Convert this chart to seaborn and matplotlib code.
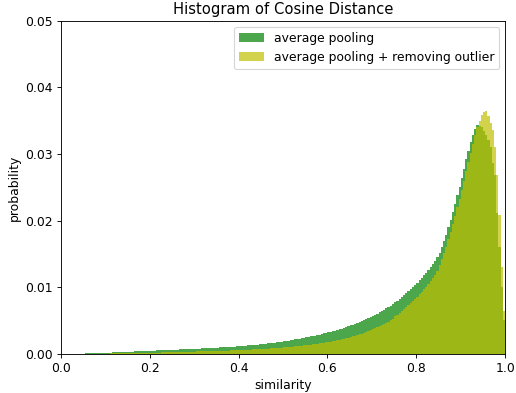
import numpy as np
import pandas as pd
import seaborn as sns
import matplotlib.pyplot as plt
from matplotlib.patches import Patch

# probability per bin (bin width 0.005, 200 bins over [0, 1])
avg_pool = [
    0, 0, 0, 0, 0.00001, 0.00002, 0.00003, 0.00004, 0.00005, 0.00007,
    0.00008, 0.00009, 0.00010, 0.00011, 0.00012, 0.00013, 0.00015, 0.00016, 0.00017, 0.00019,
    0.00020, 0.00021, 0.00023, 0.00024, 0.00026, 0.00027, 0.00029, 0.00030, 0.00032, 0.00033,
    0.00035, 0.00036, 0.00038, 0.00039, 0.00041, 0.00042, 0.00044, 0.00045, 0.00047, 0.00048,
    0.00050, 0.00051, 0.00053, 0.00054, 0.00056, 0.00057, 0.00059, 0.00060, 0.00062, 0.00063,
    0.00065, 0.00066, 0.00068, 0.00069, 0.00071, 0.00072, 0.00074, 0.00075, 0.00077, 0.00078,
    0.00080, 0.00082, 0.00083, 0.00085, 0.00087, 0.00088, 0.00090, 0.00092, 0.00094, 0.00095,
    0.00097, 0.00099, 0.00101, 0.00103, 0.00105, 0.00107, 0.00109, 0.00111, 0.00113, 0.00115,
    0.00117, 0.00120, 0.00123, 0.00126, 0.00129, 0.00132, 0.00135, 0.00138, 0.00142, 0.00145,
    0.00149, 0.00153, 0.00157, 0.00161, 0.00165, 0.00169, 0.00173, 0.00178, 0.00182, 0.00187,
    0.00192, 0.00197, 0.00202, 0.00207, 0.00213, 0.00219, 0.00225, 0.00231, 0.00237, 0.00243,
    0.00250, 0.00257, 0.00264, 0.00271, 0.00278, 0.00285, 0.00293, 0.00301, 0.00309, 0.00317,
    0.00326, 0.00335, 0.00344, 0.00353, 0.00363, 0.00373, 0.00383, 0.00394, 0.00405, 0.00417,
    0.00429, 0.00441, 0.00454, 0.00467, 0.00481, 0.00495, 0.00510, 0.00525, 0.00541, 0.00557,
    0.00574, 0.00591, 0.00609, 0.00627, 0.00646, 0.00665, 0.00685, 0.00706, 0.00728, 0.00751,
    0.00775, 0.00800, 0.00826, 0.00853, 0.00881, 0.00910, 0.00940, 0.00971, 0.01003, 0.01036,
    0.01070, 0.01106, 0.01143, 0.01182, 0.01222, 0.01264, 0.01308, 0.01354, 0.01402, 0.01452,
    0.0152, 0.0160, 0.0170, 0.0179, 0.0190, 0.0201, 0.0213, 0.0225, 0.0238, 0.0251,
    0.0264, 0.0278, 0.0292, 0.0305, 0.0318, 0.0329, 0.0338, 0.0343, 0.0342, 0.0340,
    0.0335, 0.0329, 0.0321, 0.0310, 0.0287, 0.0269, 0.0212, 0.0161, 0.0101, 0.0051,
]

avg_pool_no_outlier = [
    0, 0, 0, 0, 0, 0.00001, 0.00001, 0.00001, 0.00002, 0.00002,
    0.00003, 0.00003, 0.00004, 0.00004, 0.00005, 0.00005, 0.00006, 0.00006, 0.00007, 0.00007,
    0.00008, 0.00008, 0.00009, 0.00009, 0.00010, 0.00010, 0.00011, 0.00011, 0.00012, 0.00012,
    0.00013, 0.00014, 0.00014, 0.00015, 0.00016, 0.00016, 0.00017, 0.00018, 0.00018, 0.00019,
    0.00020, 0.00021, 0.00021, 0.00022, 0.00023, 0.00024, 0.00025, 0.00025, 0.00026, 0.00027,
    0.00028, 0.00029, 0.00030, 0.00031, 0.00032, 0.00033, 0.00034, 0.00035, 0.00036, 0.00037,
    0.00038, 0.00039, 0.00040, 0.00041, 0.00042, 0.00043, 0.00044, 0.00045, 0.00046, 0.00047,
    0.00048, 0.00049, 0.00050, 0.00051, 0.00052, 0.00053, 0.00055, 0.00056, 0.00057, 0.00058,
    0.00060, 0.00061, 0.00063, 0.00064, 0.00066, 0.00067, 0.00069, 0.00070, 0.00072, 0.00074,
    0.00076, 0.00078, 0.00080, 0.00082, 0.00084, 0.00086, 0.00088, 0.00091, 0.00093, 0.00096,
    0.00099, 0.00102, 0.00105, 0.00108, 0.00111, 0.00114, 0.00118, 0.00121, 0.00125, 0.00129,
    0.00133, 0.00137, 0.00141, 0.00145, 0.00150, 0.00155, 0.00160, 0.00165, 0.00170, 0.00176,
    0.00182, 0.00188, 0.00194, 0.00201, 0.00208, 0.00215, 0.00223, 0.00231, 0.00239, 0.00248,
    0.00257, 0.00266, 0.00276, 0.00286, 0.00297, 0.00308, 0.00320, 0.00332, 0.00345, 0.00358,
    0.00372, 0.00386, 0.00401, 0.00417, 0.00433, 0.00450, 0.00468, 0.00487, 0.00507, 0.00527,
    0.00565, 0.00590, 0.00616, 0.00643, 0.00671, 0.00700, 0.00730, 0.00761, 0.00793, 0.00826,
    0.00860, 0.00896, 0.00933, 0.00972, 0.01012, 0.01054, 0.01098, 0.01144, 0.01192, 0.01242,
    0.0134, 0.0142, 0.0152, 0.0161, 0.0172, 0.0183, 0.0195, 0.0207, 0.0220, 0.0233,
    0.0246, 0.0260, 0.0274, 0.0288, 0.0301, 0.0315, 0.0328, 0.0340, 0.0350, 0.0358,
    0.0363, 0.0364, 0.0357, 0.0347, 0.0336, 0.0311, 0.0269, 0.0209, 0.0131, 0.0064,
]

labels = ["average pooling", "average pooling + removing outlier"]
colors = ["g", "y"]

n_bins = len(avg_pool)
width = 1.0 / n_bins
centers = (np.arange(n_bins) + 0.5) * width

plt.rcParams["font.size"] = 11.1

fig = plt.figure(figsize=(6.45, 4.9125), dpi=80)
ax = fig.add_axes([0.118, 0.099, 0.861, 0.848])

for vals, col in zip([avg_pool, avg_pool_no_outlier], colors):
    df = pd.DataFrame({"similarity": centers, "p": vals})
    sns.histplot(data=df, x="similarity", weights="p", binwidth=width, binrange=(0, 1),
                 element="step", fill=True, color=col, alpha=0.7, linewidth=0, ax=ax)

ax.set_xlim(0, 1)
ax.set_ylim(0, 0.05)
ax.set_yticks([0, 0.01, 0.02, 0.03, 0.04, 0.05])
ax.set_yticklabels(["0.00", "0.01", "0.02", "0.03", "0.04", "0.05"])
ax.set_xlabel("similarity")
ax.set_ylabel("probability")
ax.set_title("Histogram of Cosine Distance", fontsize=13.3)

handles = [Patch(facecolor=c, alpha=0.7, label=l) for c, l in zip(colors, labels)]
ax.legend(handles=handles, loc="upper right")

fig.savefig("out.png", dpi=80)
